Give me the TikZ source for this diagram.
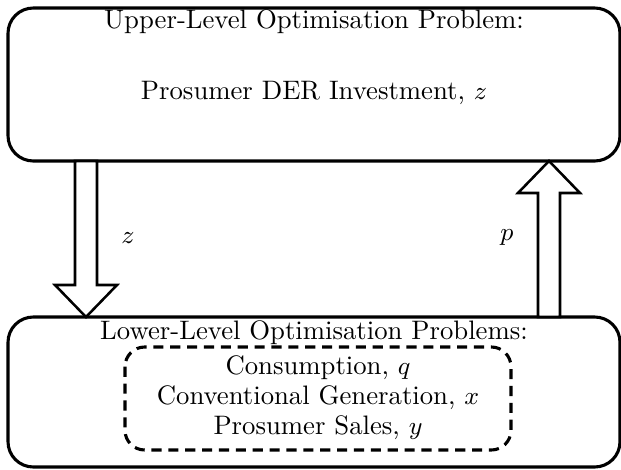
\documentclass[tikz,border=0pt]{standalone}
\usepackage{amsmath,amssymb,amsfonts}
\usepackage{xcolor}
\usepackage{tikz}
\usetikzlibrary{calc,positioning}

\begin{document}
\begin{tikzpicture}[x=0.0125cm, y=-0.0125cm,
  levelbox/.style={draw, line width=1.1pt, rounded corners=9pt},
  innerbox/.style={draw, line width=1.1pt, rounded corners=7pt,
    dash pattern=on 3.6pt off 2.4pt},
  blockarrow/.style={draw, line width=0.9pt, fill=white},
  txt/.style={inner sep=0pt, font=\fontsize{9.5}{11}\selectfont}]
\useasboundingbox (0,0) rectangle (621,470);
% the two levels
\draw[levelbox] (8,8) rectangle (620,161);
\coordinate (upS) at (314,161);
\draw[levelbox] (8,317) rectangle (620,467);
\coordinate (loN) at (314,317);
\node[txt] (uptitle) at (314,22) {Upper-Level Optimisation Problem:};
\node[txt] (upvar) at (314,93) {Prosumer DER Investment, $z$};
\node[txt] (lotitle) at (314,333) {Lower-Level Optimisation Problems:};
% followers inside the lower level
\draw[innerbox] (125,347) rectangle (511,450);
\node[txt] (cons) at (318,368) {Consumption, $q$};
\node[txt] (gen) at (318,398) {Conventional Generation, $x$};
\node[txt] (sales) at (318,428) {Prosumer Sales, $y$};
% z passed down, p passed up
\coordinate (zs) at (upS -| 86,0);
\coordinate (ze) at (loN -| 86,0);
\coordinate (ps) at (loN -| 549,0);
\coordinate (pe) at (upS -| 549,0);
\draw[blockarrow] ($(zs)+(-11,0)$) -- ($(ze)+(-11,-32)$) -- ($(ze)+(-31,-32)$) -- (ze)
  -- ($(ze)+(31,-32)$) -- ($(ze)+(11,-32)$) -- ($(zs)+(11,0)$) -- cycle;
\draw[blockarrow] ($(ps)+(-11,0)$) -- ($(pe)+(-11,32)$) -- ($(pe)+(-31,32)$) -- (pe)
  -- ($(pe)+(31,32)$) -- ($(pe)+(11,32)$) -- ($(ps)+(11,0)$) -- cycle;
\node[txt] (zlab) at (128,238) {$z$};
\node[txt] (plab) at (507,238) {$p$};
\end{tikzpicture}
\end{document}
